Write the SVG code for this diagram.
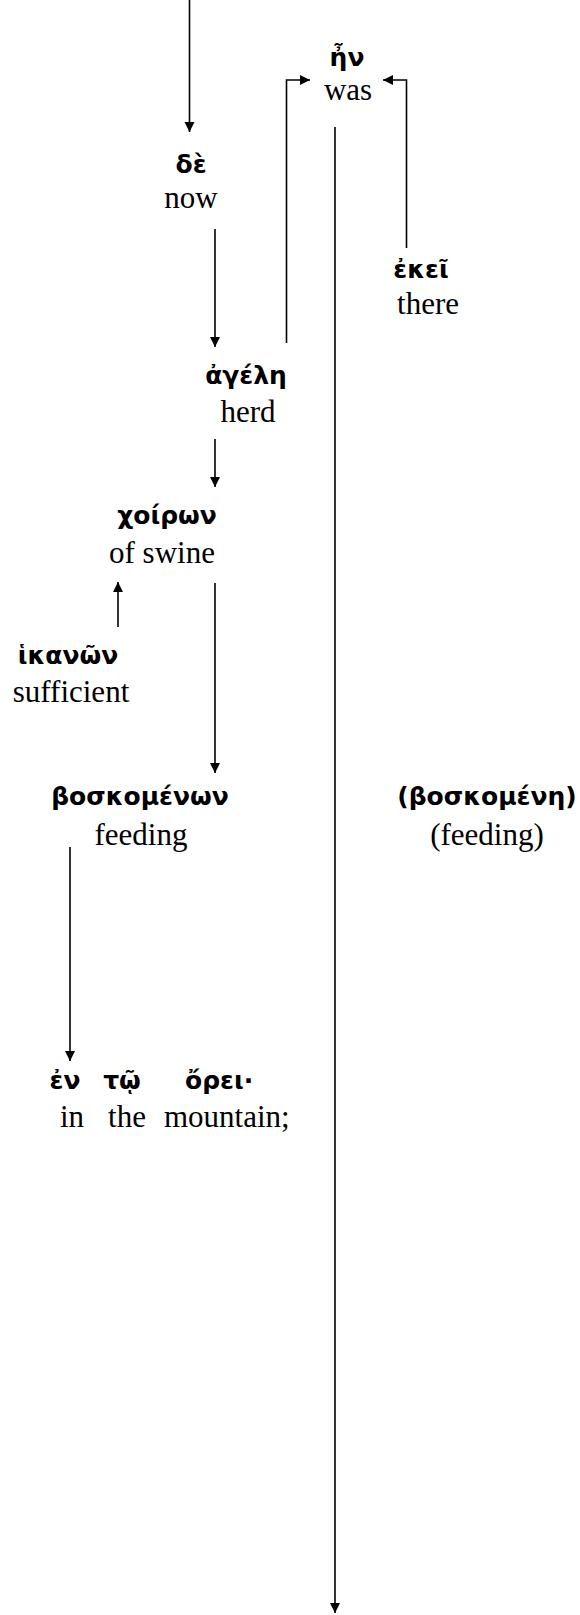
<svg xmlns="http://www.w3.org/2000/svg" width="580" height="1615" viewBox="0 0 580 1615">
  <style>
    .gk { font-family: "DejaVu Sans", "Noto Sans", sans-serif; font-weight: bold; font-size: 25px; fill: #000; text-anchor: middle; }
    .en { font-family: "Liberation Serif", "Times New Roman", serif; font-size: 31px; fill: #000; text-anchor: middle; }
    .st { text-anchor: start; }
    .edge { fill: none; stroke: #000; stroke-width: 1.6; }
  </style>
  <defs>
    <marker id="arrow" markerUnits="userSpaceOnUse" markerWidth="11" markerHeight="11" refX="10" refY="5" orient="auto">
      <path d="M0,0 L10,5 L0,10 z" fill="#000"/>
    </marker>
  </defs>
  <rect width="580" height="1615" fill="#fff"/>

  <g id="connectors">
    <path class="edge" d="M189.5,0 V132" marker-end="url(#arrow)"/>
    <path class="edge" d="M215,229 V347" marker-end="url(#arrow)"/>
    <path class="edge" d="M286.5,343 V80 H310" marker-end="url(#arrow)"/>
    <path class="edge" d="M406.5,248 V80 H383" marker-end="url(#arrow)"/>
    <path class="edge" d="M335,127 V1613" marker-end="url(#arrow)"/>
    <path class="edge" d="M215,439 V487" marker-end="url(#arrow)"/>
    <path class="edge" d="M118,627 V582" marker-end="url(#arrow)"/>
    <path class="edge" d="M215,583 V773" marker-end="url(#arrow)"/>
    <path class="edge" d="M70,847 V1061" marker-end="url(#arrow)"/>
  </g>

  <g id="node-en">
    <text class="gk" x="347" y="66">ἦν</text>
    <text class="en" x="348" y="100">was</text>
  </g>
  <g id="node-de">
    <text class="gk" x="191" y="173">δὲ</text>
    <text class="en" x="191" y="208">now</text>
  </g>
  <g id="node-ekei">
    <text class="gk" x="421" y="278">ἐκεῖ</text>
    <text class="en" x="428" y="314">there</text>
  </g>
  <g id="node-agele">
    <text class="gk" x="246" y="384">ἀγέλη</text>
    <text class="en" x="248" y="422">herd</text>
  </g>
  <g id="node-choiron">
    <text class="gk" x="167" y="524">χοίρων</text>
    <text class="en" x="162" y="563">of swine</text>
  </g>
  <g id="node-hikanon">
    <text class="gk" x="68" y="664">ἱκανῶν</text>
    <text class="en" x="71" y="702">sufficient</text>
  </g>
  <g id="node-boskomenon">
    <text class="gk" x="140" y="805">βοσκομένων</text>
    <text class="en" x="141" y="845">feeding</text>
  </g>
  <g id="node-boskomene">
    <text class="gk" x="487" y="805">(βοσκομένη)</text>
    <text class="en" x="487" y="845">(feeding)</text>
  </g>
  <g id="node-en-to-orei">
    <text class="gk" x="65" y="1089">ἐν</text>
    <text class="gk" x="122" y="1089">τῷ</text>
    <text class="gk st" x="185" y="1089">ὄρει·</text>
    <text class="en" x="72" y="1127">in</text>
    <text class="en" x="127" y="1127">the</text>
    <text class="en st" x="164" y="1127">mountain;</text>
  </g>
</svg>
